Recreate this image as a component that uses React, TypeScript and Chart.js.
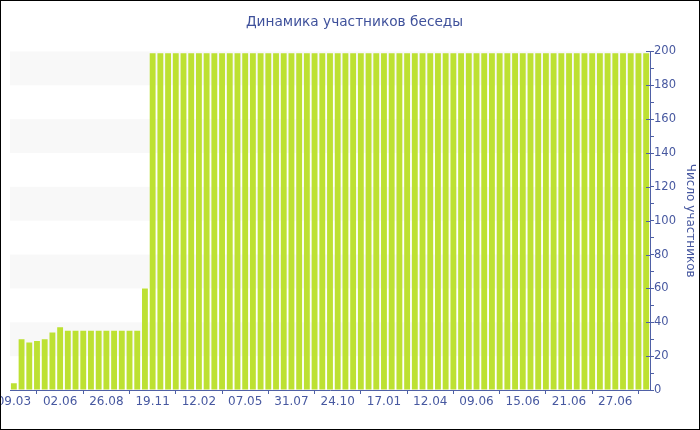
import React, { useEffect, useRef } from "react";
import { Chart, registerables } from "chart.js";

Chart.register(...registerables);

const TITLE = "Динамика участников беседы";
const Y_TITLE = "Число участников";

const dates: string[] = [
  "09.03", "23.03", "06.04", "20.04", "04.05", "18.05",
  "02.06", "16.06", "30.06", "14.07", "28.07", "11.08",
  "26.08", "09.09", "23.09", "07.10", "21.10", "04.11",
  "19.11", "03.12", "17.12", "31.12", "14.01", "28.01",
  "12.02", "26.02", "12.03", "26.03", "09.04", "23.04",
  "07.05", "21.05", "04.06", "18.06", "02.07", "16.07",
  "31.07", "14.08", "28.08", "11.09", "25.09", "09.10",
  "24.10", "07.11", "21.11", "05.12", "19.12", "02.01",
  "17.01", "31.01", "14.02", "28.02", "14.03", "28.03",
  "12.04", "22.04", "02.05", "12.05", "22.05", "01.06",
  "09.06", "10.06", "11.06", "12.06", "13.06", "14.06",
  "15.06", "16.06", "17.06", "18.06", "19.06", "20.06",
  "21.06", "22.06", "23.06", "24.06", "25.06", "26.06",
  "27.06", "28.06", "29.06", "30.06", "01.07",
];

const participants: number[] = [
  4, 30, 28, 29, 30, 34,
  37, 35, 35, 35, 35, 35,
  35, 35, 35, 35, 35, 60,
  199, 199, 199, 199, 199, 199,
  199, 199, 199, 199, 199, 199,
  199, 199, 199, 199, 199, 199,
  199, 199, 199, 199, 199, 199,
  199, 199, 199, 199, 199, 199,
  199, 199, 199, 199, 199, 199,
  199, 199, 199, 199, 199, 199,
  199, 199, 199, 199, 199, 199,
  199, 199, 199, 199, 199, 199,
  199, 199, 199, 199, 199, 199,
  199, 199, 199, 199, 199,
];

const bands: [number, number][] = [
  [20, 40],
  [60, 80],
  [100, 120],
  [140, 160],
  [180, 200],
];

const yMajorTicks: number[] = [0, 20, 40, 60, 80, 100, 120, 140, 160, 180, 200];

const LABEL_EVERY = 6;
const AXIS_COLOR = "#4f60a6";
const TEXT_COLOR = "#4758a0";
const TITLE_COLOR = "#3f519b";
const BAR_COLOR = "#bde132";
const BAND_COLOR = "#f8f8f8";

const bandPlugin = {
  id: "bands",
  beforeDatasetsDraw(chart: any) {
    const { ctx, chartArea, scales } = chart;
    const y = scales.y;
    ctx.save();
    ctx.fillStyle = BAND_COLOR;
    for (const [a, b] of bands) {
      const y1 = y.getPixelForValue(b);
      const y2 = y.getPixelForValue(a);
      ctx.fillRect(chartArea.left, y1, chartArea.right - chartArea.left, y2 - y1);
    }
    ctx.restore();
  },
  afterDraw(chart: any) {
    const { ctx, chartArea, scales } = chart;
    const y = scales.y;
    ctx.save();
    ctx.strokeStyle = AXIS_COLOR;
    ctx.lineWidth = 1;
    ctx.beginPath();
    for (const v of yMajorTicks) {
      const py = Math.round(y.getPixelForValue(v)) + 0.5;
      ctx.moveTo(chartArea.right - 4, py);
      ctx.lineTo(chartArea.right, py);
    }
    ctx.stroke();
    ctx.restore();
  },
};

export default function App() {
  const ref = useRef<HTMLCanvasElement>(null);
  useEffect(() => {
    document.body.style.margin = "0";
    Chart.defaults.font.family = "'DejaVu Sans', Verdana, sans-serif";
    const chart = new Chart(ref.current!, {
      type: "bar",
      data: {
        labels: dates,
        datasets: [
          {
            data: participants,
            backgroundColor: BAR_COLOR,
            borderWidth: 0,
            barPercentage: 0.76,
            categoryPercentage: 1,
          },
        ],
      },
      options: {
        animation: false,
        responsive: false,
        devicePixelRatio: 1,
        layout: { padding: { left: 9, right: 0, top: 0, bottom: 0 } },
        plugins: {
          legend: { display: false },
          tooltip: { enabled: false },
          title: {
            display: true,
            text: TITLE,
            color: TITLE_COLOR,
            font: { size: 13.7, weight: "normal" },
            padding: { top: 13, bottom: 21 },
          },
        },
        scales: {
          x: {
            offset: true,
            grid: {
              display: true,
              drawOnChartArea: false,
              drawTicks: true,
              tickLength: 4,
              color: AXIS_COLOR,
            },
            border: { display: true, color: AXIS_COLOR },
            ticks: {
              autoSkip: false,
              maxRotation: 0,
              minRotation: 0,
              padding: 1,
              color: TEXT_COLOR,
              font: { size: 12 },
              callback: (_v: any, i: number) =>
                i % LABEL_EVERY === 0 ? dates[i] : null,
            },
            afterFit: (s: any) => {
              s.paddingLeft = 0;
              s.paddingRight = 0;
              s.height = 39;
            },
          },
          y: {
            position: "right",
            min: 0,
            max: 200,
            grid: {
              display: true,
              drawOnChartArea: false,
              drawTicks: true,
              tickLength: 4,
              color: AXIS_COLOR,
            },
            border: { display: true, color: AXIS_COLOR },
            ticks: {
              stepSize: 10,
              autoSkip: false,
              padding: 0,
              color: TEXT_COLOR,
              font: { size: 11.5 },
              callback: (v: any) => (Number(v) % 20 === 0 ? String(v) : ""),
            },
            title: {
              display: true,
              text: Y_TITLE,
              color: TEXT_COLOR,
              font: { size: 12 },
              padding: { top: 2, bottom: 0 },
            },
            afterFit: (s: any) => {
              s.width = 49;
            },
          },
        },
      },
      plugins: [bandPlugin],
    });
    return () => chart.destroy();
  }, []);
  return (
    <div
      style={{
        width: 700,
        height: 430,
        border: "1px solid #000",
        boxSizing: "border-box",
        overflow: "hidden",
        background: "#fff",
      }}
    >
      <canvas ref={ref} width={698} height={428} style={{ display: "block" }} />
    </div>
  );
}
